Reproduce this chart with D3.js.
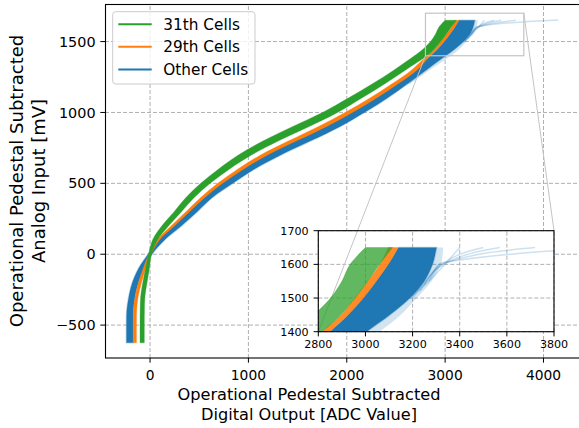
<!DOCTYPE html>
<html><head><meta charset="utf-8">
<script src="https://cdn.jsdelivr.net/npm/d3@7"></script>
<style>body{margin:0;background:#fff}svg{display:block;font-family:"DejaVu Sans",sans-serif}</style>
</head><body><svg id="c" width="579" height="428"></svg>
<script>
// ---- data (band edges, ADC value at each mV level) ----
const yLevels    = [-625,-500,-400,-300,-200,-100,0,100,200,300,400,500,600,700,800,900,1000,1100,1200,1300,1400,1450,1500,1550,1600,1650];
const greenLeft  = [-102,-102,-101,-96,-74,-46,-15,25,120,245,365,515,694,898,1152,1446,1753,2011,2256,2481,2687,2780,2852,2900,2935,3000];
const greenRight = [-58,-58,-57,-52,-30,-6,15,75,190,320,450,612,806,1032,1308,1614,1907,2149,2384,2599,2815,2895,2956,3010,3060,3115];
const orangeLeft = [-172,-172,-170,-153,-118,-70,-12,70,215,365,515,688,890,1124,1410,1708,1982,2231,2455,2660,2815,2897,2955,3010,3062,3097];
const orangeRight= [-138,-138,-136,-121,-86,-44,12,95,250,402,557,738,950,1196,1490,1792,2058,2299,2518,2715,2850,2927,2991,3046,3097,3140];
const blueLeft   = [-240,-240,-237,-216,-180,-117,-20,85,232,382,535,712,920,1160,1450,1750,2020,2265,2485,2685,2850,2927,2991,3046,3097,3140];
const blueRight  = [-172,-172,-170,-153,-118,-60,20,148,320,480,634,842,1060,1330,1635,1930,2180,2410,2615,2810,3005,3104,3189,3250,3285,3302];
const hazeLevels = [1200,1300,1400,1450,1500,1550,1600,1650];
const hazeLeft   = [2615,2810,3005,3104,3189,3250,3285,3302];
const hazeRight  = [2640,2845,3060,3150,3217,3280,3320,3330];
const outliers = [
  [[3190,1500],[3290,1565],[3400,1650]],
  [[3200,1500],[3300,1585],[3500,1650]],
  [[3230,1520],[3310,1590],[3570,1650]],
  [[3250,1540],[3320,1600],[3720,1650]],
  [[3270,1550],[3325,1605],[4150,1652]]
];
const xTicks = [0,1000,2000,3000,4000];
const yTicks = [-500,0,500,1000,1500];
const insetXTicks = [2800,3000,3200,3400,3600,3800];
const insetYTicks = [1400,1500,1600,1700];
const legendLabels = ["31th Cells","29th Cells","Other Cells"];
const colors = {green:"#2ca02c", orange:"#ff7f0e", blue:"#1f77b4"};

// ---- layout ----
const svg = d3.select("#c");
const x = d3.scaleLinear().domain([-458,4422]).range([105,585]);
const y = d3.scaleLinear().domain([-732,1765]).range([358,4]);
const xi = d3.scaleLinear().domain([2800,3800]).range([318.3,554]);
const yi = d3.scaleLinear().domain([1400,1700]).range([331.7,230.7]);
const fmt = v => (v<0?"\u2212":"")+Math.abs(v);

const defs = svg.append("defs");
defs.append("clipPath").attr("id","mainClip").append("rect").attr("x",105).attr("y",4).attr("width",480).attr("height",354);
defs.append("clipPath").attr("id","insClip").append("rect").attr("x",318.3).attr("y",230.7).attr("width",235.7).attr("height",101);

function grid(g, xs, ys, xt, yt){
  g.selectAll(".gx").data(xt).join("line").attr("class","gx").attr("x1",d=>xs(d)).attr("x2",d=>xs(d)).attr("y1",ys.range()[0]).attr("y2",ys.range()[1])
    .attr("stroke","#b0b0b0").attr("stroke-width",1).attr("stroke-dasharray","4,2");
  g.selectAll(".gy").data(yt).join("line").attr("class","gy").attr("y1",d=>ys(d)).attr("y2",d=>ys(d)).attr("x1",xs.range()[0]).attr("x2",xs.range()[1])
    .attr("stroke","#b0b0b0").attr("stroke-width",1).attr("stroke-dasharray","4,2");
}

function bands(g, xs, ys, inset){
  const area = (L,R,lv)=> d3.area().curve(d3.curveCatmullRom.alpha(0.5))
      .y((d,i)=>ys(lv[i])).x0((d,i)=>xs(L[i])).x1((d,i)=>xs(R[i]))(lv);
  g.append("path").attr("d",area(hazeLeft,hazeRight,hazeLevels)).attr("fill",colors.blue).attr("fill-opacity",0.2);
  const line = d3.line().curve(d3.curveMonotoneX).x(d=>xs(d[0])).y(d=>ys(d[1]));
  outliers.forEach(o=>g.append("path").attr("d",line(o)).attr("fill","none").attr("stroke",colors.blue).attr("stroke-opacity",0.22).attr("stroke-width",1.5));
  g.append("path").attr("d",area(blueLeft,blueRight,yLevels)).attr("fill",colors.blue)
    .attr("stroke",colors.blue).attr("stroke-opacity",0.3).attr("stroke-width",1.5);
  g.append("path").attr("d",area(orangeLeft,orangeRight,yLevels)).attr("fill",colors.orange).attr("fill-opacity",inset?0.9:1)
    .attr("stroke",colors.orange).attr("stroke-opacity",0.3).attr("stroke-width",1);
  g.append("path").attr("d",area(greenLeft,greenRight,yLevels)).attr("fill",colors.green).attr("fill-opacity",inset?0.75:1)
    .attr("stroke",colors.green).attr("stroke-opacity",0.3).attr("stroke-width",1);
}

grid(svg.append("g"), x, y, xTicks, yTicks);
bands(svg.append("g").attr("clip-path","url(#mainClip)"), x, y, false);

svg.append("rect").attr("x",x(2800)).attr("y",y(1700)).attr("width",x(3800)-x(2800)).attr("height",y(1400)-y(1700))
  .attr("fill","none").attr("stroke","#c4c4c4").attr("stroke-width",1.2);

svg.append("rect").attr("x",105.5).attr("y",4.5).attr("width",500).attr("height",353.5).attr("fill","none").attr("stroke","#000").attr("stroke-width",1.1);

const tk = svg.append("g");
xTicks.forEach(t=>{
  tk.append("line").attr("x1",x(t)).attr("x2",x(t)).attr("y1",358).attr("y2",362.7).attr("stroke","#000");
  tk.append("text").attr("x",x(t)).attr("y",379.7).attr("text-anchor","middle").attr("font-size",13.8).text(fmt(t));
});
yTicks.forEach(t=>{
  tk.append("line").attr("x1",100.3).attr("x2",105).attr("y1",y(t)).attr("y2",y(t)).attr("stroke","#000");
  tk.append("text").attr("x",95.6).attr("y",y(t)+5.1).attr("text-anchor","end").attr("font-size",14.4).text(fmt(t));
});

const ig = svg.append("g");
ig.append("rect").attr("x",318.3).attr("y",230.7).attr("width",235.7).attr("height",101).attr("fill","#fff");
grid(ig.append("g"), xi, yi, insetXTicks, insetYTicks);
svg.append("line").attr("x1",x(2800)).attr("y1",y(1400)).attr("x2",318.3).attr("y2",331.7).attr("stroke","#c4c4c4").attr("stroke-width",1);
svg.append("line").attr("x1",x(3800)).attr("y1",y(1700)).attr("x2",554).attr("y2",230.7).attr("stroke","#c4c4c4").attr("stroke-width",1);
bands(svg.append("g").attr("clip-path","url(#insClip)"), xi, yi, true);
const ia = svg.append("g");
ia.append("rect").attr("x",318.3).attr("y",230.7).attr("width",235.7).attr("height",101).attr("fill","none").attr("stroke","#000").attr("stroke-width",1.1);
insetXTicks.forEach(t=>{
  ia.append("line").attr("x1",xi(t)).attr("x2",xi(t)).attr("y1",331.7).attr("y2",336.4).attr("stroke","#000");
  ia.append("text").attr("x",xi(t)).attr("y",348.3).attr("text-anchor","middle").attr("font-size",11.1).text(t);
});
insetYTicks.forEach(t=>{
  ia.append("line").attr("x1",313.6).attr("x2",318.3).attr("y1",yi(t)).attr("y2",yi(t)).attr("stroke","#000");
  ia.append("text").attr("x",308.6).attr("y",yi(t)+4).attr("text-anchor","end").attr("font-size",11.1).text(t);
});

const lg = svg.append("g");
lg.append("rect").attr("x",112.7).attr("y",11.7).attr("width",142.3).attr("height",72.3).attr("rx",3)
  .attr("fill","#fff").attr("fill-opacity",0.8).attr("stroke","#cccccc").attr("stroke-width",1);
[colors.green,colors.orange,colors.blue].forEach((c,i)=>{
  const cy = 24.2 + i*22.6;
  lg.append("line").attr("x1",118.3).attr("x2",151.7).attr("y1",cy).attr("y2",cy).attr("stroke",c).attr("stroke-width",2);
  lg.append("text").attr("x",163.3).attr("y",cy+5.6).attr("font-size",15.3).text(legendLabels[i]);
});

svg.append("text").attr("x",309).attr("y",400.2).attr("text-anchor","middle").attr("font-size",16.2).text("Operational Pedestal Subtracted");
svg.append("text").attr("x",309).attr("y",420.2).attr("text-anchor","middle").attr("font-size",16.2).text("Digital Output [ADC Value]");
svg.append("text").attr("transform","translate(23.1,181) rotate(-90)").attr("text-anchor","middle").attr("font-size",18).text("Operational Pedestal Subtracted");
svg.append("text").attr("transform","translate(44.7,181) rotate(-90)").attr("text-anchor","middle").attr("font-size",18).text("Analog Input [mV]");
</script></body></html>
